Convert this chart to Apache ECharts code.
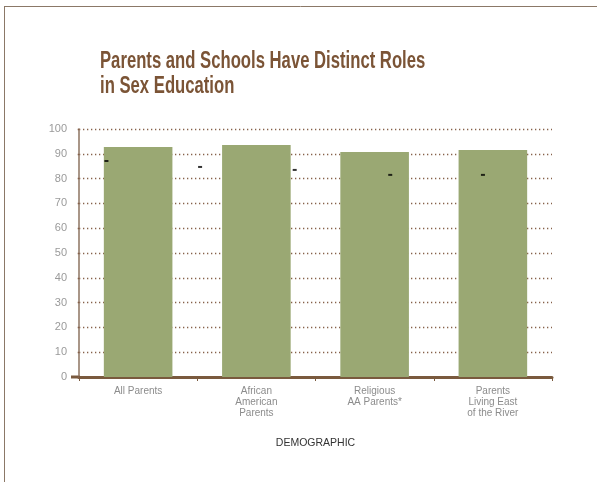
<!DOCTYPE html>
<html>
<head>
<meta charset="utf-8">
<script src="https://cdn.jsdelivr.net/npm/echarts@6/dist/echarts.min.js"></script>
<style>html,body{margin:0;padding:0;background:#fff;}#c{width:597px;height:482px;}</style>
</head>
<body>
<div id="c"></div>
<script>
var categories = ['All Parents', 'African\nAmerican\nParents', 'Religious\nAA Parents*', 'Parents\nLiving East\nof the River'];
var barValues = [92.7, 93.5, 90.7, 91.5];
var markX = [0.29, 1.28, 2.28, 3.29, 4.27];
var markValues = [87.1, 84.7, 83.5, 81.5, 81.5];
var yTicks = [0, 10, 20, 30, 40, 50, 60, 70, 80, 90, 100];
var titleText = 'Parents and Schools Have Distinct Roles\nin Sex Education';

var chart = echarts.init(document.getElementById('c'), null, {renderer: 'canvas'});
var dotted = {color: '#86614a', width: 1.3, type: [1.3, 2.7]};
var option = {
  animation: false,
  backgroundColor: '#fff',
  graphic: [
    {type: 'line', shape: {x1: 4, y1: 6.5, x2: 597, y2: 6.5}, style: {stroke: '#8b7867', lineWidth: 1}},
    {type: 'line', shape: {x1: 4.5, y1: 6, x2: 4.5, y2: 482}, style: {stroke: '#8b7867', lineWidth: 1}},
    {type: 'line', shape: {x1: 71, y1: 377, x2: 80, y2: 377}, style: {stroke: '#7a5a3e', lineWidth: 3}},
    {type: 'text', x: 100, y: 49, scaleX: 0.725,
      style: {text: titleText, font: 'bold 23px "Liberation Sans"', lineHeight: 25, fill: '#7b5436',
        verticalAlign: 'top', align: 'left'}}
  ],
  grid: {left: 79, right: 45, top: 129, bottom: 105},
  xAxis: [{
    type: 'category',
    data: categories,
    axisLine: {lineStyle: {color: '#7a5a3e', width: 3}},
    axisTick: {show: true, length: 4, lineStyle: {color: '#7a5a3e', width: 1}},
    axisLabel: {color: '#8c8c8c', fontSize: 10, lineHeight: 11, margin: 9, fontFamily: 'Liberation Sans', interval: 0},
    name: 'DEMOGRAPHIC',
    nameLocation: 'middle',
    nameGap: 61,
    nameTextStyle: {color: '#333', fontSize: 10.5, fontFamily: 'Liberation Sans'}
  }, {
    type: 'value', min: 0, max: 5, show: false
  }],
  yAxis: {
    type: 'value', min: 0, max: 100, interval: 10,
    axisLine: {show: true, lineStyle: {color: '#8c7360', width: 1.5}},
    axisTick: {show: true, length: 4, lineStyle: dotted},
    splitLine: {show: true, lineStyle: dotted},
    axisLabel: {color: '#9a9a9a', fontSize: 11, margin: 12, fontFamily: 'Liberation Sans',
      formatter: function (v) { return yTicks.indexOf(v) >= 0 ? String(v) : ''; }}
  },
  series: [{
    type: 'bar',
    data: barValues,
    barWidth: '58%',
    itemStyle: {color: '#9aa873'},
    z: 2
  }, {
    type: 'scatter',
    xAxisIndex: 1,
    data: markX.map(function (x, i) { return [x, markValues[i]]; }),
    symbol: 'rect',
    symbolSize: [4, 2],
    itemStyle: {color: '#000'},
    z: 5
  }]
};
chart.setOption(option);
</script>
</body>
</html>
